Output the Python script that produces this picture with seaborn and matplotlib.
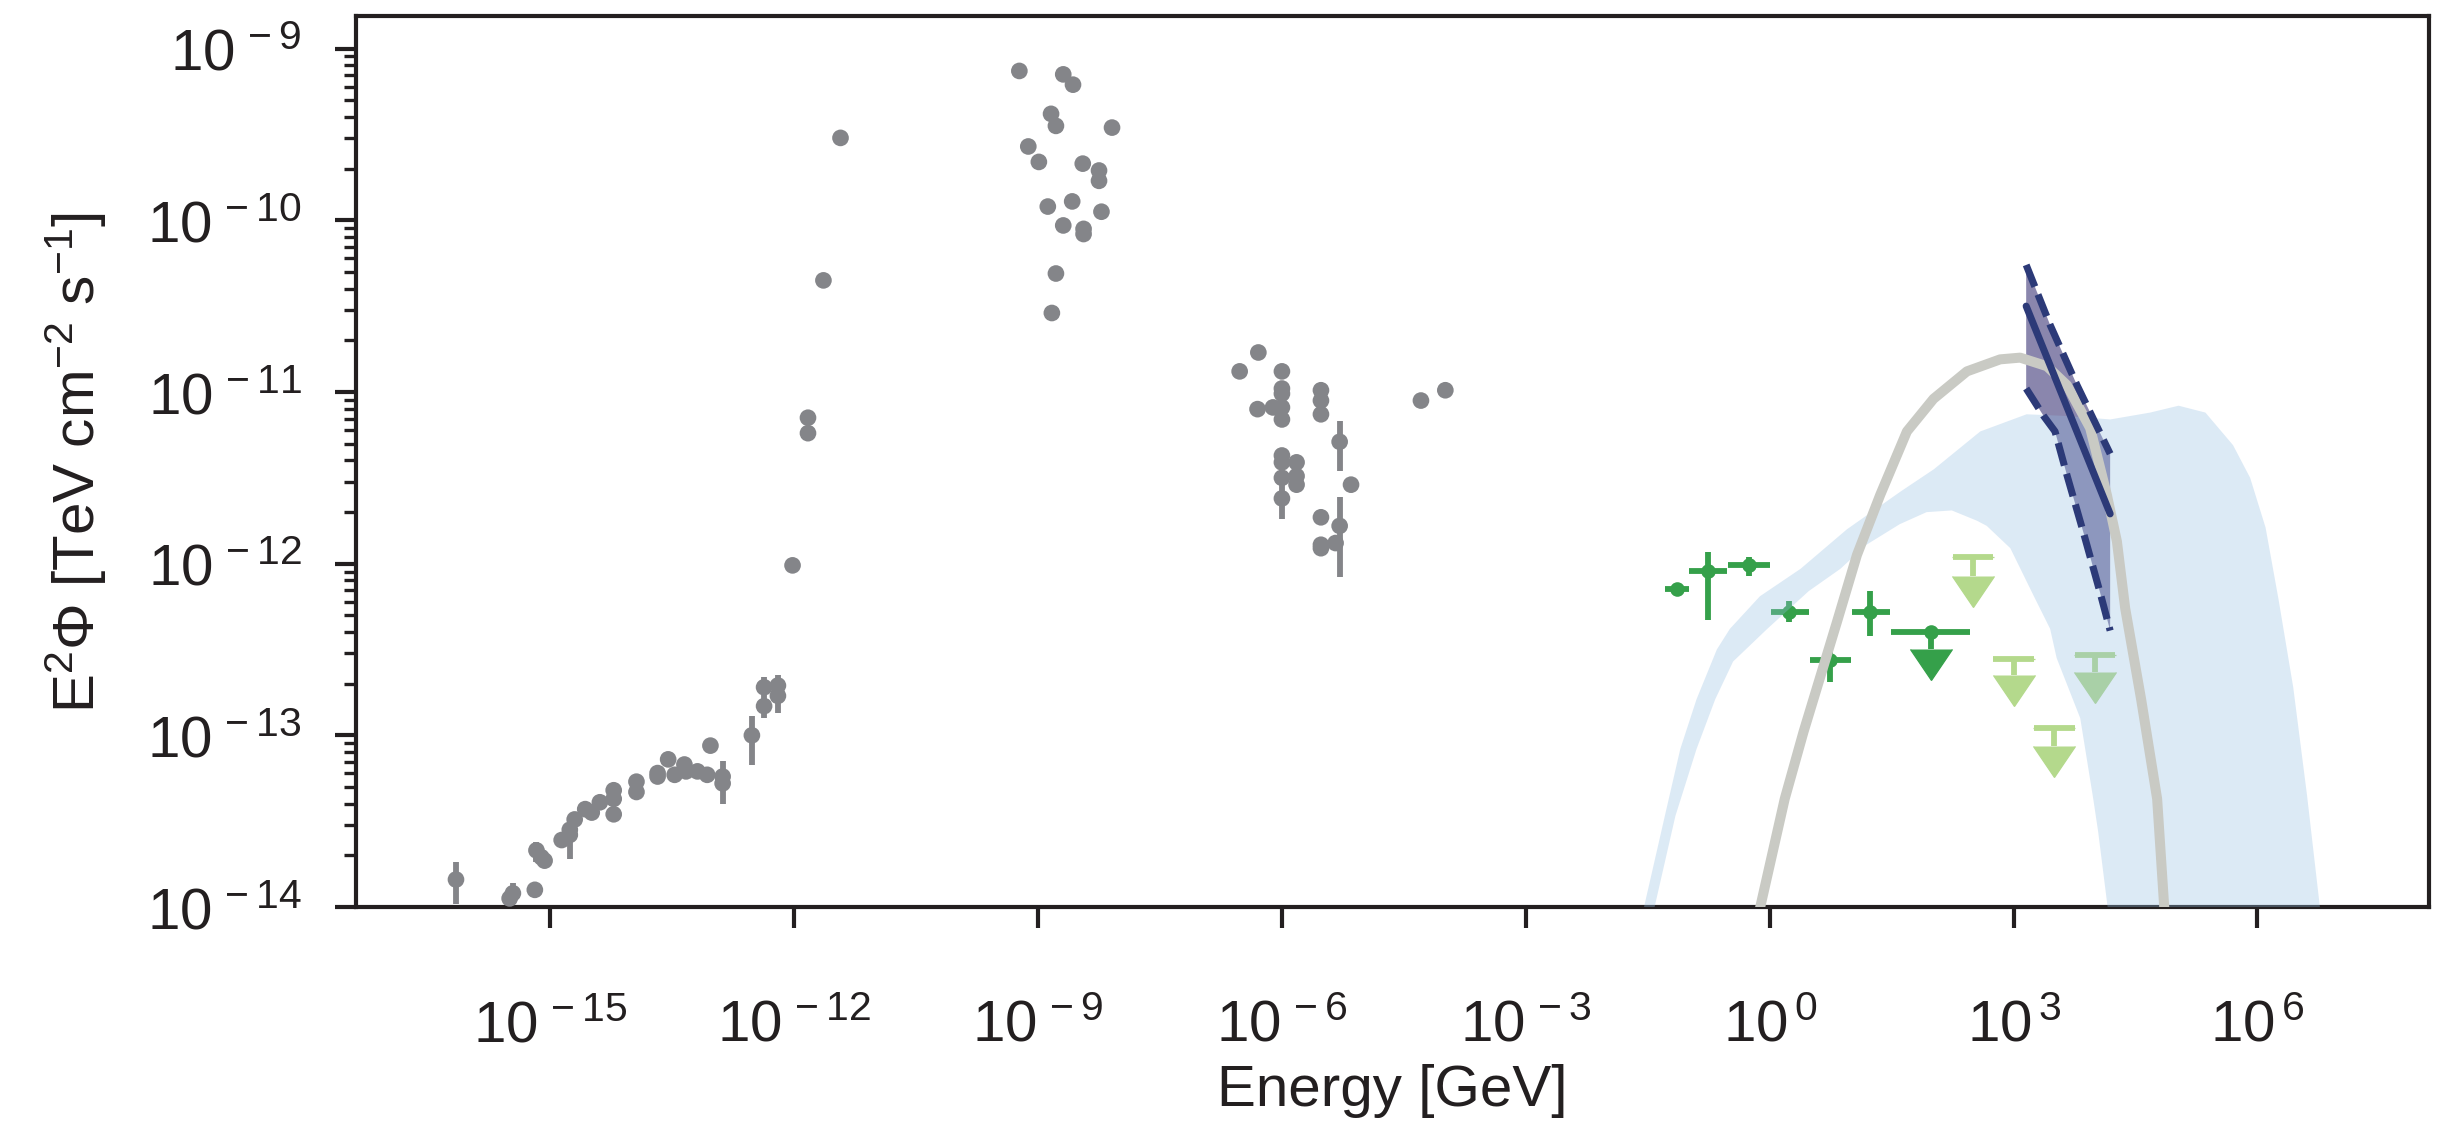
import numpy as np
import pandas as pd
import matplotlib
matplotlib.use("Agg")
import matplotlib.pyplot as plt
import seaborn as sns
from matplotlib.ticker import FixedLocator, FuncFormatter, LogLocator, NullLocator, NullFormatter

# ------------------------------------------------------------------
# Data (stored as log10 numbers)
# ------------------------------------------------------------------
# archival multi-wavelength points (grey): log10(E / GeV), log10(E^2 Phi)
mwl_logE = [-16.16, -15.50, -15.46, -15.19, -15.17, -15.11, -15.07, -14.86, -14.76, -14.76,
            -14.70, -14.57, -14.49, -14.39, -14.22, -14.22, -14.22, -13.94, -13.94, -13.68,
            -13.68, -13.55, -13.47, -13.35, -13.33, -13.19, -13.07, -13.03, -12.88, -12.88,
            -12.52, -12.37, -12.37, -12.20, -12.20, -12.02, -11.83, -11.83, -11.64, -11.43,
            -9.23, -8.69, -8.57, -8.84, -8.78, -8.09, -9.12, -8.99, -8.45, -8.25,
            -8.25, -8.88, -8.58, -8.22, -8.69, -8.44, -8.44, -8.78, -8.83,
            -6.29, -6.52, -6.00, -6.00, -6.00, -6.30, -6.11, -6.00, -6.00, -5.52,
            -5.52, -5.52, -5.29, -6.00, -6.00, -5.82, -6.00, -5.82, -5.82, -6.00,
            -5.15, -5.52, -5.29, -5.52, -5.52, -5.34, -4.29, -3.99]
mwl_logF = [-13.84, -13.95, -13.92, -13.90, -13.67, -13.71, -13.73, -13.61, -13.58, -13.55,
            -13.49, -13.43, -13.45, -13.39, -13.32, -13.37, -13.46, -13.27, -13.33, -13.22,
            -13.24, -13.14, -13.23, -13.17, -13.21, -13.21, -13.23, -13.06, -13.24, -13.28,
            -13.00, -12.72, -12.83, -12.71, -12.77, -12.01, -11.15, -11.24, -10.35, -9.52,
            -9.13, -9.15, -9.21, -9.38, -9.45, -9.46, -9.57, -9.66, -9.67, -9.71,
            -9.77, -9.92, -9.89, -9.95, -10.03, -10.05, -10.08, -10.31, -10.54,
            -10.77, -10.88, -10.88, -10.98, -11.01, -11.10, -11.09, -11.09, -11.16, -10.99,
            -11.05, -11.13, -11.29, -11.37, -11.41, -11.41, -11.50, -11.49, -11.54, -11.62,
            -11.54, -11.73, -11.78, -11.89, -11.91, -11.88, -11.05, -10.99]
# grey points that carry vertical error bars
mwl_err_logE = [-16.16, -15.46, -15.17, -14.76, -12.88, -12.52, -12.37, -12.20, -5.29, -6.00, -5.29]
mwl_err_logF = [-13.84, -13.92, -13.67, -13.58, -13.24, -13.00, -12.72, -12.71, -11.29, -11.62, -11.78]
mwl_err_logLo = [-13.98, -13.98, -13.74, -13.72, -13.40, -13.17, -12.90, -12.87, -11.46, -11.74, -12.08]
mwl_err_logHi = [-13.74, -13.86, -13.62, -13.53, -13.15, -12.89, -12.66, -12.65, -11.17, -11.50, -11.61]

# GeV points (dark green)
lat_logE = [-1.14, -0.76, -0.26, 0.24, 0.74, 1.24]
lat_logE_lo = [-1.29, -0.99, -0.51, 0.01, 0.49, 1.01]
lat_logE_hi = [-0.99, -0.52, 0.00, 0.48, 1.00, 1.48]
lat_logF = [-12.15, -12.04, -12.01, -12.28, -12.56, -12.28]
lat_logF_lo = [-12.17, -12.33, -12.07, -12.34, -12.69, -12.42]
lat_logF_hi = [-12.13, -11.93, -11.96, -12.22, -12.46, -12.16]
# dark green upper limit (with point); arrow head starts at *_logArrow
lat_ul_logE = [1.98]
lat_ul_logE_lo = [1.49]
lat_ul_logE_hi = [2.47]
lat_ul_logF = [-12.40]
lat_ul_logArrow = [-12.50]

# light green upper limits
ul_logE = [2.50, 3.00, 3.50, 4.00]
ul_logE_lo = [2.26, 2.75, 3.25, 3.75]
ul_logE_hi = [2.75, 3.25, 3.75, 4.25]
ul_logF = [-11.96, -12.555, -12.96, -12.53]
ul_logArrow = [-12.07, -12.65, -13.06, -12.63]

# model band (light blue): upper and lower envelopes
band_up_logE = [-1.57, -1.29, -1.10, -0.90, -0.65, -0.49, -0.12, 0.38, 0.95, 1.61, 2.02, 2.59,
                3.16, 3.66, 4.19, 4.68, 5.03, 5.36, 5.70, 5.91, 6.10, 6.26, 6.44, 6.61, 6.78]
band_up_logF = [-14.05, -13.47, -13.08, -12.79, -12.50, -12.38, -12.19, -12.03, -11.80, -11.58, -11.45, -11.23,
                -11.13, -11.14, -11.16, -11.12, -11.08, -11.12, -11.31, -11.50, -11.79, -12.21, -12.72, -13.35, -14.05]
band_lo_logE = [-1.44, -1.16, -0.90, -0.67, -0.45, -0.03, 0.48, 0.87, 1.19, 1.60, 1.93, 2.24,
                2.55, 2.67, 2.96, 3.25, 3.45, 3.53, 3.82, 3.98, 4.04, 4.17]
band_lo_logF = [-14.05, -13.47, -13.08, -12.79, -12.57, -12.38, -12.16, -12.03, -11.89, -11.77, -11.70, -11.69,
                -11.75, -11.78, -11.91, -12.19, -12.38, -12.55, -12.90, -13.37, -13.56, -14.05]

# model curve (grey)
model_logE = [-0.14, 0.185, 0.416, 0.827, 1.073, 1.359, 1.688, 2.015, 2.426, 2.835, 3.081,
              3.410, 3.656, 3.942, 4.148, 4.271, 4.373, 4.569, 4.766, 4.86]
model_logF = [-14.05, -13.37, -12.98, -12.34, -11.95, -11.60, -11.23, -11.04, -10.88, -10.81, -10.80,
              -10.85, -10.96, -11.21, -11.60, -11.87, -12.26, -12.79, -13.37, -14.05]

# TeV butterfly (purple)
bf_up_logE = [3.155, 3.45, 3.78, 4.188]
bf_up_logF = [-10.26, -10.61, -10.96, -11.36]
bf_lo_logE = [3.155, 3.37, 3.51, 3.66, 3.86, 4.065, 4.188]
bf_lo_logF = [-10.98, -11.14, -11.23, -11.49, -11.82, -12.17, -12.39]
bf_fit_logE = [3.155, 4.188]
bf_fit_logF = [-10.50, -11.71]

# ------------------------------------------------------------------
# Styling
# ------------------------------------------------------------------
sns.set_theme(style="ticks")
plt.rcParams.update({
    "font.family": ["Liberation Sans", "DejaVu Sans"],
    "mathtext.fontset": "custom",
    "mathtext.rm": "Liberation Sans",
    "mathtext.it": "Liberation Sans:italic",
    "mathtext.bf": "Liberation Sans:bold",
    "axes.edgecolor": "#231f20",
    "axes.linewidth": 1.0,
    "xtick.color": "#231f20",
    "ytick.color": "#231f20",
    "text.color": "#231f20",
    "axes.labelcolor": "#231f20",
})

GREY = "#848589"
DKGREEN = "#35a04a"
LTGREEN = "#b4d98c"
BAND = "#94bee2"
MODEL = "#c9cac4"
NAVY = "#2c3a78"
PURPLE = "#8a86ad"

fig = plt.figure(figsize=(8.15, 3.7633), dpi=300)
ax = fig.add_axes([0.1456, 0.19575, 0.84785, 0.7892])
ax.set_xscale("log")
ax.set_yscale("log")

p = lambda a: 10.0 ** np.asarray(a, dtype=float)


def paint_caps(container, color):
    for cl in container[1]:
        cl.set_color(color)
        cl.set_markerfacecolor(color)
        cl.set_markeredgecolor(color)


# grey archival data
mwl = pd.DataFrame({"E": p(mwl_logE), "F": p(mwl_logF)})
ax.errorbar(p(mwl_err_logE), p(mwl_err_logF),
            yerr=[p(mwl_err_logF) - p(mwl_err_logLo), p(mwl_err_logHi) - p(mwl_err_logF)],
            fmt="none", ecolor=GREY, elinewidth=1.4, capsize=0, zorder=2)
sns.scatterplot(data=mwl, x="E", y="F", color=GREY, s=16, edgecolor="none",
                linewidth=0, ax=ax, zorder=3, legend=False)

# dark green points
le, lf = p(lat_logE), p(lat_logF)
ax.errorbar(le, lf,
            xerr=[le - p(lat_logE_lo), p(lat_logE_hi) - le],
            yerr=[lf - p(lat_logF_lo), p(lat_logF_hi) - lf],
            fmt="o", ms=3.5, mew=0, color=DKGREEN, ecolor=DKGREEN,
            elinewidth=1.4, capsize=0, zorder=2)
# dark green upper limit
ue, uf = p(lat_ul_logE), p(lat_ul_logF)
ax.errorbar(ue, uf, xerr=[ue - p(lat_ul_logE_lo), p(lat_ul_logE_hi) - ue],
            fmt="o", ms=3.5, mew=0, color=DKGREEN, ecolor=DKGREEN,
            elinewidth=1.4, capsize=0, zorder=2)
c = ax.errorbar(ue, uf, yerr=uf - p(lat_ul_logArrow), uplims=True, fmt="none",
                ecolor=DKGREEN, elinewidth=1.4, capsize=5.0, capthick=0.3, zorder=2)
paint_caps(c, DKGREEN)

# light green upper limits
ve, vf = p(ul_logE), p(ul_logF)
ax.errorbar(ve, vf, xerr=[ve - p(ul_logE_lo), p(ul_logE_hi) - ve], fmt="none",
            ecolor=LTGREEN, elinewidth=1.4, capsize=0, zorder=2)
c = ax.errorbar(ve, vf, yerr=vf - p(ul_logArrow), uplims=True, fmt="none",
                ecolor=LTGREEN, elinewidth=1.4, capsize=5.0, capthick=0.3, zorder=2)
paint_caps(c, LTGREEN)

# butterfly fill
bx = np.concatenate([p(bf_up_logE), p(bf_lo_logE)[::-1]])
by = np.concatenate([p(bf_up_logF), p(bf_lo_logF)[::-1]])
ax.fill(bx, by, color=PURPLE, lw=0, zorder=2.5)

# model band
gx = np.concatenate([p(band_up_logE), p(band_lo_logE)[::-1]])
gy = np.concatenate([p(band_up_logF), p(band_lo_logF)[::-1]])
ax.fill(gx, gy, color=BAND, alpha=0.32, lw=0, zorder=3)

# model curve
model = pd.DataFrame({"E": p(model_logE), "F": p(model_logF)})
sns.lineplot(data=model, x="E", y="F", sort=False, color=MODEL, lw=2.4, ax=ax,
             zorder=4, legend=False)

# butterfly lines
ax.plot(p(bf_up_logE), p(bf_up_logF), color=NAVY, lw=1.7, ls=(0, (3.3, 1.2)), zorder=5)
ax.plot(p(bf_lo_logE), p(bf_lo_logF), color=NAVY, lw=1.7, ls=(0, (3.3, 1.2)), zorder=5)
ax.plot(p(bf_fit_logE), p(bf_fit_logF), color=NAVY, lw=1.7, zorder=5)

# axes
ax.set_xlim(10 ** -17.39, 10 ** 8.11)
ax.set_ylim(1e-14, 10 ** -8.81)

fmt = FuncFormatter(lambda v, pos: r"$\mathregular{10^{\,%d}}$" % int(round(np.log10(v))))
ax.xaxis.set_major_locator(FixedLocator([10.0 ** k for k in range(-15, 7, 3)]))
ax.xaxis.set_minor_locator(NullLocator())
ax.xaxis.set_major_formatter(fmt)
ax.yaxis.set_major_locator(FixedLocator([10.0 ** k for k in range(-14, -8)]))
ax.yaxis.set_minor_locator(LogLocator(base=10, subs=np.arange(2, 10), numticks=30))
ax.yaxis.set_major_formatter(fmt)
ax.yaxis.set_minor_formatter(NullFormatter())

ax.tick_params(axis="both", which="major", direction="out", length=5, width=1.0, labelsize=14)
ax.tick_params(axis="y", which="minor", direction="out", length=2.8, width=0.8)
ax.tick_params(axis="x", which="major", pad=17)
ax.tick_params(axis="y", which="major", pad=8)

ax.set_xlabel("Energy [GeV]", fontsize=14, labelpad=2.5)
ax.set_ylabel(r"E$^{\mathregular{2}}$Φ [TeV cm$^{\mathregular{-2}}$ s$^{\mathregular{-1}}$]",
              fontsize=14, labelpad=9)

fig.savefig("out.png", dpi=300)
